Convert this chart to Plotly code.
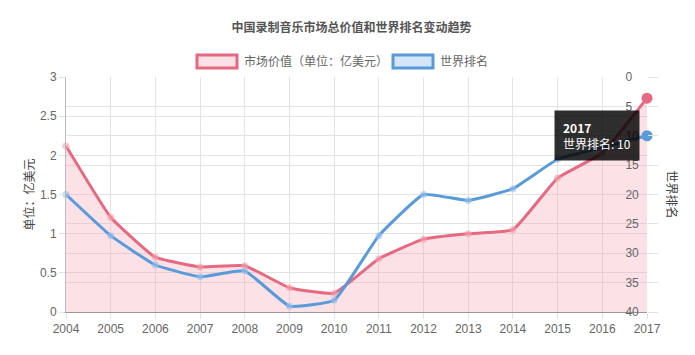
import plotly.graph_objects as go

years = [2004, 2005, 2006, 2007, 2008, 2009, 2010, 2011, 2012, 2013, 2014, 2015, 2016, 2017]
market_value = [2.12, 1.21, 0.70, 0.575, 0.59, 0.31, 0.24, 0.68, 0.93, 1.0, 1.05, 1.71, 2.03, 2.73]
world_rank = [20, 27, 32, 34, 33, 39, 38, 27, 20, 21, 19, 14, 12, 10]

title = "中国录制音乐市场总价值和世界排名变动趋势"
name_value = "市场价值（单位：亿美元）"
name_rank = "世界排名"
left_title = "单位：亿美元"

RED = "rgb(229,105,128)"
BLUE = "rgb(88,155,216)"
PINK = "rgba(244,150,168,0.28)"
LIGHTBLUE = "rgba(160,200,240,0.45)"
FONT = "Noto Sans CJK SC"
GREY = "#666"
GRID = "#e3e3e3"

# page body has an 8px default margin, so figure is sized / offset accordingly
W, H = 687, 347
L, T = 58, 69
R, B = 48, 43
PW, PH = W - L - R, H - T - B

def px(xs):
    return (xs - 8 - L) / PW

def py(ys):
    return 1 - (ys - 8 - T) / PH

fig = go.Figure()
fig.add_trace(go.Scatter(
    x=years, y=market_value, name=name_value, yaxis="y",
    mode="lines+markers", fill="tozeroy", fillcolor=PINK,
    line=dict(color=RED, width=3, shape="spline", smoothing=0.35),
    marker=dict(size=7, color="rgba(244,160,175,0.6)", line=dict(width=0)),
    showlegend=False, hoverinfo="skip", cliponaxis=False,
))
fig.add_trace(go.Scatter(
    x=years, y=world_rank, name=name_rank, yaxis="y2",
    mode="lines+markers",
    line=dict(color=BLUE, width=3, shape="spline", smoothing=0.35),
    marker=dict(size=7, color="rgba(150,190,235,0.6)", line=dict(width=0)),
    showlegend=False, hoverinfo="skip", cliponaxis=False,
))

fig.add_trace(go.Scatter(x=[years[-1]], y=[market_value[-1]], yaxis="y", mode="markers",
                         marker=dict(size=11, color=RED), showlegend=False, hoverinfo="skip",
                         cliponaxis=False))
fig.add_trace(go.Scatter(x=[years[-1]], y=[world_rank[-1]], yaxis="y2", mode="markers",
                         marker=dict(size=11, color=BLUE), showlegend=False, hoverinfo="skip",
                         cliponaxis=False))

tickfont = dict(family="Liberation Sans", size=12, color=GREY)
fig.update_layout(
    width=W, height=H,
    margin=dict(l=L, r=R, t=T, b=B),
    paper_bgcolor="white", plot_bgcolor="white",
    font=dict(family=FONT, size=12, color=GREY),
    title=dict(text="<b>" + title + "</b>", x=0.5, xanchor="center",
               y=1 - 20 / H, yanchor="middle",
               font=dict(size=12, color="#555")),
    xaxis=dict(range=[2004, 2017], tickvals=years, ticktext=[str(y) for y in years],
               showgrid=True, gridcolor=GRID, zeroline=False, automargin=False,
               showline=True, linecolor="#999", ticks="outside", ticklen=6, tickcolor=GRID,
               tickfont=tickfont),
    yaxis=dict(range=[0, 3], dtick=0.5, showgrid=True, gridcolor=GRID, zeroline=False,
               automargin=False,
               showline=True, linecolor="#bbb", ticks="outside", ticklen=6, tickcolor=GRID,
               tickfont=tickfont,
               title=dict(text=left_title, font=dict(size=12, color="#444"), standoff=2)),
    yaxis2=dict(range=[40, 0], dtick=5, overlaying="y", side="right",
                showgrid=True, gridcolor=GRID, zeroline=False, automargin=False,
                showline=False, ticks="outside", ticklen=10, tickcolor=GRID,
                ticklabelstandoff=-35,
                tickfont=tickfont),
)

fig.add_annotation(text=name_rank, xref="paper", yref="paper", x=px(672), y=0.5,
                   xanchor="center", yanchor="middle",
                   textangle=90, showarrow=False, font=dict(size=12, color="#444"))

leg_y = py(61)
fig.add_shape(type="rect", xref="paper", yref="paper",
              x0=px(197), x1=px(237), y0=py(68), y1=py(55),
              fillcolor=PINK, line=dict(color=RED, width=3))
fig.add_annotation(text=name_value, xref="paper", yref="paper", x=px(242), y=leg_y,
                   xanchor="left", yanchor="middle", showarrow=False, font=dict(size=12, color=GREY))
fig.add_shape(type="rect", xref="paper", yref="paper",
              x0=px(393), x1=px(433), y0=py(68), y1=py(55),
              fillcolor=LIGHTBLUE, line=dict(color=BLUE, width=3))
fig.add_annotation(text=name_rank, xref="paper", yref="paper", x=px(438), y=leg_y,
                   xanchor="left", yanchor="middle", showarrow=False, font=dict(size=12, color=GREY))

fig.add_annotation(text="<b>2017</b><br>世界排名: 10", x=years[-1], y=world_rank[-1],
                   xref="x", yref="y2", xanchor="right", yanchor="middle", xshift=-7,
                   showarrow=False, align="left", bgcolor="rgba(0,0,0,0.82)",
                   borderpad=8, font=dict(size=12, color="white"))

fig.write_html("out.html")
